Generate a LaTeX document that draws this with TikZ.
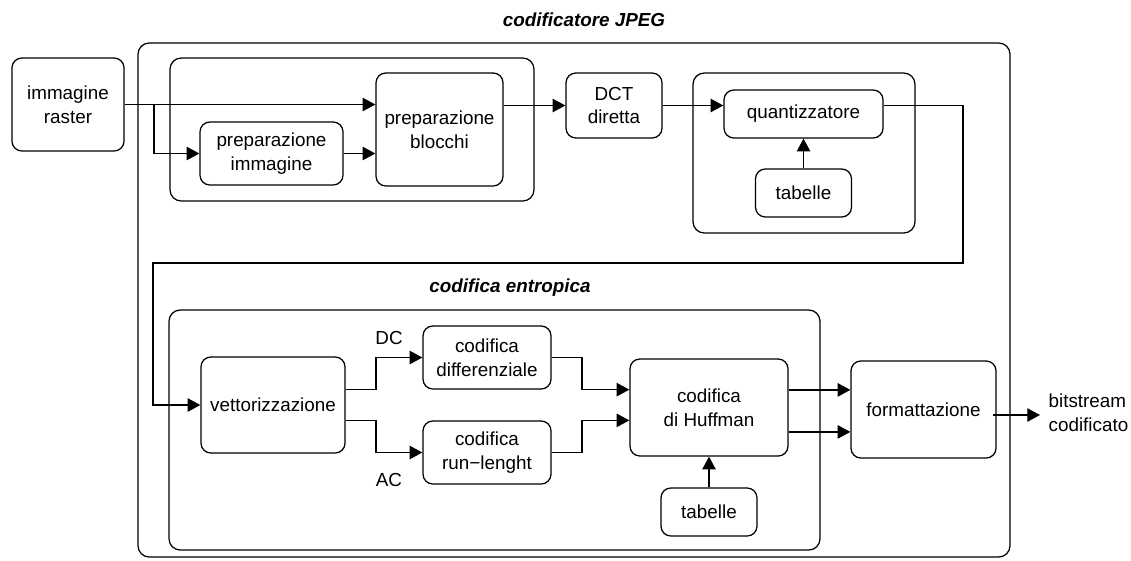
\documentclass[tikz,border=0pt]{standalone}
\usepackage{fontspec}
\setmainfont{Liberation Sans}
\usetikzlibrary{arrows.meta,positioning,calc}

\begin{document}
\begin{tikzpicture}[x=0.025cm, y=-0.025cm, >={Triangle[length=9pt,width=9.5pt]},
  line width=0.9pt, font=\fontsize{13.4}{17}\selectfont,
  blk/.style={draw, rounded corners=7pt, align=center, inner sep=0pt},
  grp/.style={draw, rounded corners=8pt},
  ttl/.style={font=\fontsize{13.4}{17}\selectfont\bfseries\itshape}]
\useasboundingbox (0,0) rectangle (1131,560);

% contenitori
\node[ttl] (titJPEG) at (584,20) {codificatore JPEG};
\draw[grp] (138,43) rectangle (1010,557);
\draw[grp] (170,58) rectangle (534,201);
\draw[grp] (693,73) rectangle (915,233);
\node[ttl] (titEnt) at (510,288) {codifica entropica};
\draw[grp] (169,310) rectangle (820,550);

% blocchi
\node[blk,minimum width=2.8cm,minimum height=2.325cm]  (raster)  at (68,104.5)   {immagine\\raster};
\node[blk,minimum width=3.575cm,minimum height=1.575cm] (prepimm) at (271.5,153.5) {preparazione\\immagine};
\node[blk,minimum width=3.175cm,minimum height=2.825cm] (prepblk) at (439.5,129.5) {preparazione\\blocchi};
\node[blk,minimum width=2.4cm,minimum height=1.625cm]  (dct)     at (614,105.5)   {DCT\\diretta};
\node[blk,minimum width=3.975cm,minimum height=1.2cm]   (quant)   at (803.5,114)   {quantizzatore};
\node[blk,minimum width=2.4cm,minimum height=1.2cm]    (tabq)    at (803.5,193)   {tabelle};
\node[blk,minimum width=3.6cm,minimum height=2.4cm]    (vett)    at (273,405)     {vettorizzazione};
\node[blk,minimum width=3.2cm,minimum height=1.575cm]  (diff)    at (487,357.5)   {codifica\\differenziale};
\node[blk,minimum width=3.2cm,minimum height=1.575cm]  (runl)    at (487,452.5)   {codifica\\run{\textminus}lenght};
\node[blk,minimum width=3.95cm,minimum height=2.425cm] (huff)    at (709,407.5)   {codifica\\di Huffman};
\node[blk,minimum width=2.4cm,minimum height=1.2cm]    (tabh)    at (709,512)     {tabelle};
\node[blk,minimum width=3.625cm,minimum height=2.425cm] (form)   at (923.5,409.5) {formattazione};
\node[anchor=west,align=left,inner sep=0pt,xshift=0.2cm] (out) at (1040,413) {bitstream\\codificato};
\node (dc) at (389,338) {DC};
\node (ac) at (389,480) {AC};

% punti di snodo
\coordinate (br)   at (154,104.5);
\coordinate (ret1) at (963,263);
\coordinate (ret2) at (153,263);
\coordinate (sp)   at (376,405);
\coordinate (mg)   at (582,405);
\coordinate (fo)   at ([xshift=-0.08cm]form.east);

% collegamenti
\draw[->] (raster.east) -- (raster.east -| prepblk.west);
\draw[->] (br) |- (prepimm.west);
\draw[->] (prepimm.east) -- (prepimm.east -| prepblk.west);
\draw[->] (prepblk.east |- dct.west) -- (dct.west);
\draw[->] (dct.east) -- (dct.east -| quant.west);
\draw[->] (tabq.north) -- (quant.south);
\draw[->] (quant.east |- dct.east) -| (ret1) -- (ret2) |- (vett.west);
\draw[->] (vett.east |- diff.south) -| (sp |- diff.west) -- (diff.west);
\draw[->] (vett.east |- runl.north) -| (sp |- runl.west) -- (runl.west);
\draw[->] (diff.east) -| (mg |- diff.south) -- (huff.west |- diff.south);
\draw[->] (runl.east) -| (mg |- runl.north) -- (huff.west |- runl.north);
\draw[->] (tabh.north) -- (huff.south);
\draw[->] ([yshift=0.44cm]huff.east) -- ([yshift=0.44cm]huff.east -| form.west);
\draw[->] ([yshift=-0.61cm]huff.east) -- ([yshift=-0.61cm]huff.east -| form.west);
\draw[->] (fo |- 0,415) -- (1040,415);
\end{tikzpicture}
\end{document}
